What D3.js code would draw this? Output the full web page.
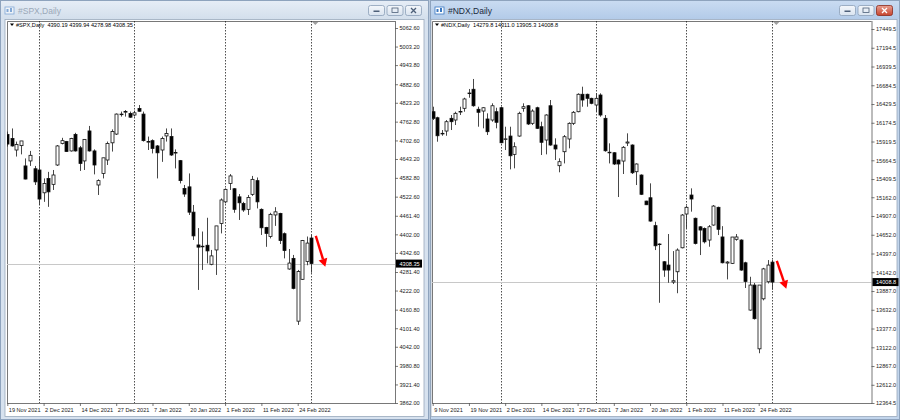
<!DOCTYPE html>
<html><head><meta charset="utf-8">
<script src="https://cdn.jsdelivr.net/npm/d3@7"></script>
<style>
body{margin:0;background:#fff}
svg{display:block}
text{font-family:"Liberation Sans",Arial,sans-serif}
</style>
</head><body><svg id="c" width="900" height="420"></svg>
<script>
// ---------- DATA ----------
const spxTitle = "#SPX,Daily";
const spxHeader = "#SPX,Daily  4390.19 4399.94 4278.98 4308.35";
const spxOpen = [4722,4709,4672,4686,4621,4637,4612,4608,4535,4581,4562,4624,4693,4699,4669,4722,4679,4637,4733,4669,4560,4597,4640,4695,4723,4786,4794,4789,4784,4805,4787,4697,4702,4685,4672,4717,4715,4663,4638,4549,4554,4473,4368,4362,4367,4306,4352,4437,4506,4565,4548,4522,4501,4482,4530,4574,4482,4424,4395,4464,4469,4404,4291,4325,4124,4258,4315,4390.19];
const spxHigh = [4731,4741,4699,4701,4645,4669,4621,4651,4581,4602,4608,4688,4711,4701,4711,4727,4685,4707,4749,4674,4578,4647,4699,4738,4789,4795,4800,4795,4798,4816,4795,4715,4706,4688,4715,4741,4741,4674,4640,4560,4597,4496,4422,4411,4455,4352,4429,4517,4549,4595,4550,4531,4506,4528,4589,4584,4485,4426,4471,4489,4471,4408,4355,4336,4288,4384,4395,4399.94];
const spxLow = [4683,4683,4651,4658,4578,4621,4560,4496,4506,4490,4544,4621,4690,4666,4667,4667,4605,4608,4667,4594,4528,4581,4624,4667,4720,4779,4779,4775,4779,4795,4699,4672,4661,4581,4634,4699,4653,4613,4565,4522,4464,4384,4224,4288,4309,4303,4272,4405,4501,4544,4471,4448,4474,4464,4525,4485,4400,4362,4389,4429,4371,4325,4289,4226,4112,4256,4303,4278.98];
const spxClose = [4691,4685,4690,4701,4579,4655,4570,4515,4565,4538,4592,4685,4702,4667,4709,4669,4629,4706,4669,4624,4574,4647,4693,4731,4787,4787,4795,4777,4791,4796,4702,4699,4677,4663,4709,4725,4656,4664,4574,4531,4473,4397,4361,4364,4349,4333,4429,4512,4546,4589,4482,4503,4480,4520,4578,4506,4423,4405,4466,4474,4382,4350,4310,4229,4283,4382,4374,4308.35];
const spxPriceTicks = ["5062.60","5003.20","4943.80","4882.60","4823.20","4762.80","4702.60","4643.20","4582.80","4522.60","4461.40","4402.00","4342.60","4281.40","4222.00","4160.80","4101.40","4042.00","3980.80","3921.40","3862.00"];
const spxDateLabels = ["19 Nov 2021","2 Dec 2021","14 Dec 2021","27 Dec 2021","7 Jan 2022","20 Jan 2022","1 Feb 2022","11 Feb 2022","24 Feb 2022"];
const spxDateIndex = [0,8,16,24,32,40,48,56,64];
const spxMonthStart = [7,28,48,67];
const spxLast = "4308.35";

const ndxTitle = "#NDX,Daily";
const ndxHeader = "#NDX,Daily  14279.8 14311.0 13905.3 14008.8";
const ndxOpen = [16325,16243,16031,16062,16235,16212,16322,16371,16572,16630,16358,16334,16226,16212,16325,16379,15951,15994,15745,15994,16371,16406,16167,16379,16121,15940,16406,15872,15591,15781,15954,16167,16325,16562,16562,16507,16416,16552,16235,15770,15767,15668,15654,15899,15872,15509,15464,15110,15155,14776,14526,14285,14240,14009,14149,14475,14934,15192,14876,14760,14738,14580,14784,15025,14622,14267,14263,14590,14580,14271,13628,13968,13101,13781,14013,14279.8];
const ndxHigh = [16393,16257,16076,16212,16280,16325,16393,16515,16634,16770,16393,16385,16303,16439,16379,16393,16121,16121,15909,16325,16439,16416,16358,16393,16189,16290,16484,15963,15691,16008,16181,16334,16575,16665,16570,16515,16575,16575,16280,15895,15775,15675,15858,16031,15881,15622,15473,15114,15351,14829,14535,14294,14662,14430,14467,14934,15048,15283,14885,14769,14751,14784,15056,15034,14769,14294,14622,14662,14590,14285,14081,13997,13955,14202,14308,14311.0];
const ndxLow = [16212,15917,15998,15998,16076,16144,16280,16325,16515,16393,16121,16099,16008,16189,16099,15895,15804,15541,15555,15985,16325,16144,16144,16090,15736,15745,15862,15668,15501,15622,15827,16144,16317,16393,16393,16426,16325,16257,15781,15622,15600,15165,15478,15858,15478,15328,15192,15056,14829,14444,13727,14080,13999,13982,13857,14467,14739,14966,14520,14376,14534,14489,14775,14648,14263,14045,14254,14571,14162,13928,13619,13499,13041,13760,13990,13905.3];
const ndxClose = [16235,15998,16027,16189,16189,16303,16328,16498,16579,16406,16317,16379,16053,16406,16181,15903,15956,15726,15849,16303,16393,16158,16334,16099,15909,16280,15872,15818,15645,15985,16167,16317,16562,16484,16507,16439,16507,16280,15794,15774,15614,15614,15841,15913,15495,15614,15202,15060,14838,14502,14522,14172,14172,14027,14444,14920,15025,15138,14534,14716,14556,14761,15042,14726,14271,14281,14621,14622,14172,14017,13968,13511,13968,14188,14240,14008.8];
const ndxPriceTicks = ["17449.5","17194.5","16939.5","16684.5","16429.5","16174.5","15919.5","15664.5","15409.5","15162.0","14907.0","14652.0","14397.0","14142.0","13887.0","13632.0","13377.0","13122.0","12867.0","12612.0","12364.5"];
const ndxDateLabels = ["9 Nov 2021","19 Nov 2021","2 Dec 2021","14 Dec 2021","27 Dec 2021","7 Jan 2022","20 Jan 2022","1 Feb 2022","11 Feb 2022","24 Feb 2022"];
const ndxDateIndex = [0,8,16,24,32,40,48,56,64,72];
const ndxMonthStart = [15,36,56,75];
const ndxLast = "14008.8";

// ---------- DRAW ----------
const svg = d3.select("#c");
svg.append("rect").attr("width",900).attr("height",420).attr("fill","#b9c9dd");

const defs = svg.append("defs");
function grad(id, c1, c2){
  const g = defs.append("linearGradient").attr("id",id).attr("x1",0).attr("y1",0).attr("x2",0).attr("y2",1);
  g.append("stop").attr("offset",0).attr("stop-color",c1);
  g.append("stop").attr("offset",1).attr("stop-color",c2);
}
grad("tbInactive","#e6edf6","#d3dfec");
grad("tbActive","#c9dbf1","#b3cbe8");
grad("btn","#f4f7fb","#d9e3ef");
grad("btnRed","#e8a092","#c7432c");

function drawWindow(cfg){
  const g = svg.append("g");
  const W = cfg.win;
  // frame
  g.append("rect").attr("x",W.x+0.5).attr("y",0.5).attr("width",W.w-1).attr("height",419)
    .attr("fill",cfg.active?"#c2d5ec":"#d7e2ef").attr("stroke","#8ea3bd");
  g.append("rect").attr("x",W.x+1).attr("y",1).attr("width",W.w-2).attr("height",18)
    .attr("fill",cfg.active?"url(#tbActive)":"url(#tbInactive)");
  // icon
  const ic = g.append("g").attr("transform",`translate(${W.x+5},${7})`).attr("opacity",cfg.active?1:0.55);
  ic.append("rect").attr("width",9).attr("height",7).attr("fill","#ffffff").attr("stroke","#3a78c2").attr("stroke-width",0.8);
  ic.append("rect").attr("x",1.5).attr("y",2).attr("width",2).attr("height",3).attr("fill","#3a78c2");
  ic.append("rect").attr("x",5).attr("y",1).attr("width",2).attr("height",4).attr("fill","#3a78c2");
  g.append("text").attr("x",W.x+18).attr("y",14).attr("font-size",8.5)
    .attr("fill",cfg.active?"#1b2a3c":"#9aa8b8").text(cfg.title);
  // buttons
  const bx = W.x+W.w-61;
  [0,1,2].forEach(k=>{
    const x = bx + k*18.5;
    const red = cfg.active && k===2;
    g.append("rect").attr("x",x+0.5).attr("y",5.5).attr("width",16).attr("height",10).attr("rx",2)
      .attr("fill",red?"url(#btnRed)":"url(#btn)").attr("stroke",red?"#8a2a1c":"#8c9fb8").attr("stroke-width",0.8);
    const c = red?"#ffffff":"#4d5f78";
    if(k===0) g.append("rect").attr("x",x+5.5).attr("y",10.5).attr("width",6).attr("height",1.5).attr("fill",c);
    if(k===1) g.append("rect").attr("x",x+5.5).attr("y",8).attr("width",6).attr("height",4.5).attr("fill","none").attr("stroke",c).attr("stroke-width",0.8);
    if(k===2){
      g.append("path").attr("d",`M${x+6},${8} L${x+11},${13} M${x+11},${8} L${x+6},${13}`).attr("stroke",c).attr("stroke-width",1.3);
    }
  });
  // client area
  const P = cfg.plot;
  g.append("rect").attr("x",W.x+cfg.clientL).attr("y",19.5).attr("width",W.w-cfg.clientL-cfg.clientR).attr("height",397)
    .attr("fill","#ffffff").attr("stroke","#9aa9bb").attr("stroke-width",0.8);

  const x = d3.scaleLinear().domain([0, cfg.open.length-1]).range([P.x0, P.x1]);
  const y = d3.scaleLinear().domain(cfg.yDomain).range([P.bottom, P.yTop]);
  const clipId = "clip"+cfg.id;
  defs.append("clipPath").attr("id",clipId).append("rect")
    .attr("x",P.left).attr("y",P.top).attr("width",P.axisX-P.left).attr("height",P.bottom-P.top);

  // plot border
  g.append("path").attr("d",`M${P.left+0.5},${P.bottom} V${P.top+0.5} H${P.axisX}`)
    .attr("fill","none").attr("stroke","#555").attr("stroke-width",0.8);

  const pg = g.append("g").attr("clip-path",`url(#${clipId})`);
  // month separators
  pg.selectAll("line.sep").data(cfg.months).join("line")
    .attr("x1",d=>Math.round(x(d))+0.5).attr("x2",d=>Math.round(x(d))+0.5)
    .attr("y1",P.top).attr("y2",P.bottom)
    .attr("stroke","#222").attr("stroke-width",0.8).attr("stroke-dasharray","1.5,1.5");
  // last price line
  const lastVal = +cfg.last;
  pg.append("line").attr("x1",P.left).attr("x2",P.axisX).attr("y1",Math.round(y(lastVal))+0.5).attr("y2",Math.round(y(lastVal))+0.5)
    .attr("stroke","#c8c8c8").attr("stroke-width",1);

  // candles
  const idx = d3.range(cfg.open.length);
  const cg = pg.append("g");
  idx.forEach(i=>{
    const cx = Math.round(x(i))+0.5;
    const o=cfg.open[i], h=cfg.high[i], l=cfg.low[i], c=cfg.close[i];
    cg.append("line").attr("x1",cx).attr("x2",cx).attr("y1",y(h)).attr("y2",y(l))
      .attr("stroke","#333").attr("stroke-width",0.9);
    const top = y(Math.max(o,c)), bot = y(Math.min(o,c));
    const bull = c>=o;
    cg.append("rect").attr("x",cx-1.5).attr("y",top).attr("width",3).attr("height",Math.max(0.6,bot-top))
      .attr("fill",bull?"#ffffff":"#000000").attr("stroke","#111").attr("stroke-width",0.8);
  });

  // shift marker
  const sx = x(cfg.open.length-1)+4;
  g.append("path").attr("d",`M${sx-3},${P.top+1} L${sx+3},${P.top+1} L${sx},${P.top+4}Z`).attr("fill","#a0a0a0");

  // header
  g.append("path").attr("d",`M${P.left+3},${23.5} L${P.left+7},${23.5} L${P.left+5},${26}Z`).attr("fill","#000");
  g.append("text").attr("x",P.left+9).attr("y",27).attr("font-size",5.6).attr("fill","#000")
    .attr("xml:space","preserve").style("white-space","pre").text(cfg.header);

  // y axis
  const yAxis = d3.axisRight(y).tickValues(cfg.ticks.map(Number)).tickFormat((d,i)=>cfg.ticks[i]).tickSize(3).tickPadding(1.5);
  const ya = g.append("g").attr("transform",`translate(${P.axisX},0)`).call(yAxis);
  ya.select(".domain").attr("d",`M0.5,${P.top}V${P.bottom+0.5}`).attr("stroke","#555").attr("stroke-width",0.8);
  ya.selectAll(".tick line").attr("stroke","#555").attr("stroke-width",0.8);
  ya.selectAll(".tick text").attr("font-size",5.6).attr("font-family",'"Liberation Sans",Arial,sans-serif').attr("fill","#222");

  // last price label
  const ly = y(lastVal);
  g.append("rect").attr("x",P.axisX+1).attr("y",ly-4).attr("width",26).attr("height",8).attr("fill","#000");
  g.append("text").attr("x",P.axisX+4.5).attr("y",ly+2).attr("font-size",5.6).attr("fill","#fff").text(cfg.last);

  // x axis
  const xAxis = d3.axisBottom(x).tickValues(cfg.dateIdx).tickFormat((d,i)=>cfg.dates[i]).tickSize(3).tickPadding(2);
  const xa = g.append("g").attr("transform",`translate(0,${P.bottom})`).call(xAxis);
  xa.select(".domain").attr("d",`M${P.left},0.5H${P.axisX+0.5}`).attr("stroke","#555").attr("stroke-width",0.8);
  xa.selectAll(".tick line").attr("stroke","#555").attr("stroke-width",0.8);
  xa.selectAll(".tick text").attr("text-anchor","start").attr("dx",1).attr("font-size",5.6)
    .attr("font-family",'"Liberation Sans",Arial,sans-serif').attr("fill","#222");

  // red arrow annotation
  const n = cfg.open.length;
  const ax1 = x(n-1)+4.5, ay1 = y(cfg.high[n-1])+1, ax2 = x(n-1)+14, ay2 = y(cfg.low[n-1])-6 + cfg.arrowDrop;
  const ang = Math.atan2(ay2-ay1, ax2-ax1);
  const hl = 8, hw = 4.5;
  const bxp = ax2 - hl*Math.cos(ang), byp = ay2 - hl*Math.sin(ang);
  g.append("line").attr("x1",ax1).attr("y1",ay1).attr("x2",bxp).attr("y2",byp).attr("stroke","#ff0000").attr("stroke-width",2.4);
  g.append("path").attr("d",`M${ax2},${ay2} L${bxp - hw*Math.sin(ang)},${byp + hw*Math.cos(ang)} L${bxp + hw*Math.sin(ang)},${byp - hw*Math.cos(ang)}Z`).attr("fill","#ff0000");
}

drawWindow({id:"spx", title:spxTitle, header:spxHeader, active:false,
  win:{x:0,w:429}, clientL:5, clientR:5,
  plot:{left:7, top:21, axisX:395, bottom:403, x0:7.3, x1:311.3, yTop:28},
  yDomain:[+spxPriceTicks[spxPriceTicks.length-1], +spxPriceTicks[0]],
  open:spxOpen, high:spxHigh, low:spxLow, close:spxClose,
  ticks:spxPriceTicks, dates:spxDateLabels, dateIdx:spxDateIndex, months:spxMonthStart, last:spxLast, arrowDrop:0});

drawWindow({id:"ndx", title:ndxTitle, header:ndxHeader, active:true,
  win:{x:430,w:470}, clientL:1, clientR:3,
  plot:{left:432, top:21, axisX:871.5, bottom:403, x0:432.7, x1:772.3, yTop:29},
  yDomain:[+ndxPriceTicks[ndxPriceTicks.length-1], +ndxPriceTicks[0]],
  open:ndxOpen, high:ndxHigh, low:ndxLow, close:ndxClose,
  ticks:ndxPriceTicks, dates:ndxDateLabels, dateIdx:ndxDateIndex, months:ndxMonthStart, last:ndxLast, arrowDrop:5});
</script>
</body></html>
